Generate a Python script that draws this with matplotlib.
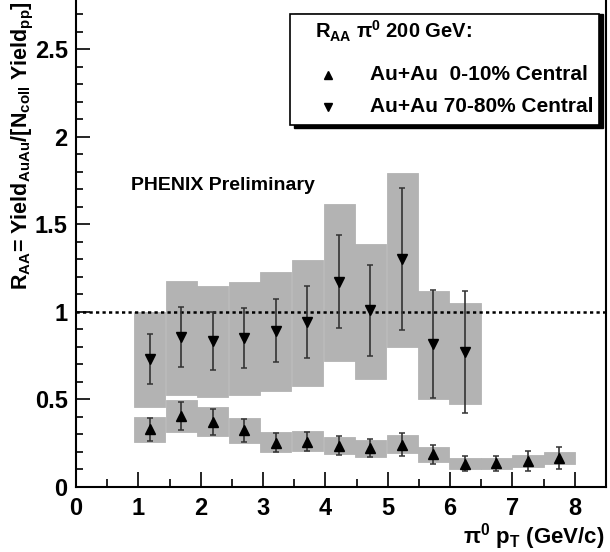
import numpy as np
import matplotlib
matplotlib.use('Agg')
import matplotlib.pyplot as plt
from matplotlib.patches import Rectangle

plt.rcParams['font.family'] = ['Liberation Sans', 'DejaVu Sans']
plt.rcParams['font.weight'] = 'bold'
plt.rcParams['mathtext.default'] = 'regular'

# 0-10% central
cent_x = [1.18, 1.69, 2.19, 2.70, 3.20, 3.71, 4.22, 4.72, 5.23, 5.73, 6.24, 6.74, 7.25, 7.75]
cent_y = [0.33, 0.405, 0.37, 0.325, 0.253, 0.259, 0.236, 0.221, 0.242, 0.187, 0.133, 0.135, 0.149, 0.166]
cent_stat = [0.066, 0.082, 0.075, 0.066, 0.053, 0.056, 0.054, 0.052, 0.067, 0.055, 0.043, 0.044, 0.055, 0.063]
cent_sys_lo = [0.259, 0.314, 0.293, 0.253, 0.2, 0.206, 0.187, 0.173, 0.192, 0.145, 0.103, 0.103, 0.116, 0.13]
cent_sys_hi = [0.402, 0.497, 0.457, 0.396, 0.314, 0.32, 0.288, 0.269, 0.297, 0.229, 0.166, 0.166, 0.181, 0.2]

# 70-80% central
peri_x = [1.18, 1.69, 2.19, 2.70, 3.20, 3.71, 4.22, 4.72, 5.23, 5.73, 6.24]
peri_y = [0.731, 0.857, 0.834, 0.85, 0.893, 0.941, 1.173, 1.008, 1.301, 0.817, 0.771]
peri_stat = [0.145, 0.17, 0.165, 0.173, 0.18, 0.207, 0.268, 0.261, 0.404, 0.307, 0.347]
peri_sys_lo = [0.457, 0.526, 0.516, 0.526, 0.55, 0.579, 0.72, 0.617, 0.802, 0.501, 0.472]
peri_sys_hi = [1.0, 1.177, 1.149, 1.171, 1.229, 1.297, 1.617, 1.387, 1.792, 1.116, 1.053]

box_w = 0.5
box_col = '#b3b3b3'
err_col = '#333333'

fig = plt.figure(figsize=(6.10, 5.52), dpi=100)
ax = fig.add_axes([76 / 610, 65 / 552, 530 / 610, 487 / 552])

# systematic boxes
ax.bar(peri_x, np.array(peri_sys_hi) - np.array(peri_sys_lo), bottom=peri_sys_lo,
       width=box_w, color=box_col, edgecolor=box_col, linewidth=0.6, zorder=1)
ax.bar(cent_x, np.array(cent_sys_hi) - np.array(cent_sys_lo), bottom=cent_sys_lo,
       width=box_w, color=box_col, edgecolor=box_col, linewidth=0.6, zorder=1)

ax.axhline(1.0, color='k', lw=1.8, linestyle=(0, (1.3, 1.3)), zorder=2)

ax.errorbar(peri_x, peri_y, yerr=peri_stat, fmt='none', ecolor=err_col,
            elinewidth=1.2, capsize=2.5, capthick=1.1, zorder=3)
ax.errorbar(cent_x, cent_y, yerr=cent_stat, fmt='none', ecolor=err_col,
            elinewidth=1.2, capsize=2.5, capthick=1.1, zorder=3)
ax.plot(peri_x, peri_y, 'v', color='k', markersize=7, zorder=4)
ax.plot(cent_x, cent_y, '^', color='k', markersize=7, zorder=4)

ax.set_xlim(0, 8.5)
ax.set_ylim(0, 2.78)
ax.set_xticks(np.arange(0, 9, 1))
ax.set_xticks(np.arange(0, 8.6, 0.5), minor=True)
ax.set_yticks([0, 0.5, 1, 1.5, 2, 2.5])
ax.set_yticklabels(['0', '0.5', '1', '1.5', '2', '2.5'])
ax.set_yticks(np.arange(0, 2.79, 0.1), minor=True)
ax.tick_params(which='both', direction='in', top=False, right=False, labelsize=17, width=1.2)
ax.tick_params(axis='y', which='major', length=10, pad=6)
ax.tick_params(axis='y', which='minor', length=5)
ax.tick_params(axis='x', which='major', length=11, pad=7)
ax.tick_params(axis='x', which='minor', length=6)
for lab in ax.get_xticklabels() + ax.get_yticklabels():
    lab.set_fontweight('bold')
ax.spines['top'].set_visible(False)
for s in ['left', 'bottom', 'right']:
    ax.spines[s].set_linewidth(1.5)

ax.text(0.88, 1.72, 'PHENIX Preliminary', fontsize=14, fontweight='bold', va='center', ha='left')

# legend box with shadow
ax.add_patch(Rectangle((0.411, 0.737), 0.583, 0.234, transform=ax.transAxes,
                       facecolor='k', edgecolor='k', zorder=5, clip_on=False))
ax.add_patch(Rectangle((0.404, 0.743), 0.583, 0.228, transform=ax.transAxes,
                       facecolor='white', edgecolor='k', lw=1.2, zorder=6, clip_on=False))
ax.text(0.451, 0.936, r'R$_{AA}$ $\pi^{0}$ 200 GeV:', transform=ax.transAxes,
        fontsize=14.5, fontweight='bold', va='center', zorder=7)
ax.plot([0.475], [0.846], '^', color='k', markersize=6, transform=ax.transAxes, zorder=7)
ax.text(0.555, 0.846, 'Au+Au  0-10% Central', transform=ax.transAxes,
        fontsize=15, fontweight='bold', va='center', zorder=7)
ax.plot([0.475], [0.781], 'v', color='k', markersize=6, transform=ax.transAxes, zorder=7)
ax.text(0.555, 0.781, 'Au+Au 70-80% Central', transform=ax.transAxes,
        fontsize=15, fontweight='bold', va='center', zorder=7)

fig.text(10 / 610, 0.998, r'R$_{AA}$= Yield$_{AuAu}$/[N$_{coll}$ Yield$_{pp}$]',
         rotation=90, fontsize=15.5, fontweight='bold', ha='left', va='top')
fig.text(605 / 610, 15 / 552, r'$\pi^{0}$ p$_{T}$ (GeV/c)', fontsize=16,
         fontweight='bold', ha='right', va='center')

fig.savefig('out.png', dpi=100)
